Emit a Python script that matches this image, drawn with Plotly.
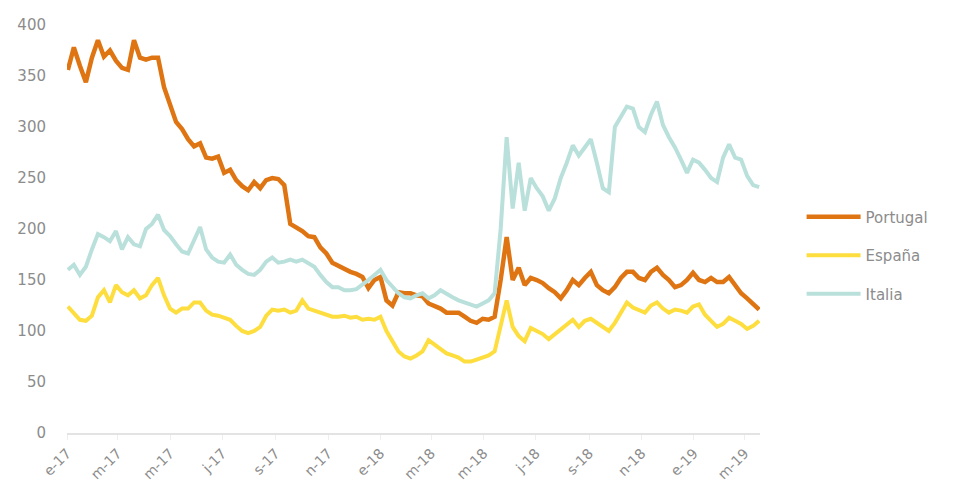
import pandas as pd
import plotly.graph_objects as go

# Weekly observations starting 2 Jan 2017
start_date = "2017-01-02"

portugal = [356, 378, 360, 344, 368, 385, 369, 375, 365, 358,
            356, 385, 368, 366, 368, 368, 339, 322, 305, 298,
            288, 281, 284, 270, 269, 271, 255, 258, 248, 242,
            238, 246, 240, 248, 250, 249, 243, 205, 202, 198,
            193, 192, 182, 176, 167, 164, 160, 158, 156, 153,
            142, 150, 153, 130, 125, 138, 137, 137, 135, 134,
            127, 125, 122, 118, 118, 118, 114, 110, 108, 112,
            111, 114, 150, 192, 150, 162, 145, 152, 150, 147,
            142, 138, 132, 140, 150, 145, 152, 158, 145, 140,
            137, 143, 152, 158, 158, 152, 150, 158, 162, 155,
            150, 143, 145, 150, 157, 150, 148, 152, 148, 148,
            153, 145, 137, 132, 126, 121]

espana = [124, 118, 111, 110, 115, 133, 140, 128, 145, 138,
          135, 140, 132, 135, 145, 152, 135, 122, 118, 122,
          122, 128, 128, 120, 116, 115, 113, 111, 105, 100,
          98, 100, 104, 115, 121, 120, 121, 118, 120, 130,
          122, 120, 118, 116, 114, 114, 115, 113, 114, 111,
          112, 111, 114, 100, 90, 80, 75, 73, 76, 80,
          91, 87, 83, 78, 76, 74, 70, 70, 72, 74,
          76, 80, 105, 130, 104, 95, 90, 103, 100, 97,
          92, 97, 101, 107, 111, 104, 110, 112, 108, 104,
          100, 108, 118, 128, 123, 120, 118, 125, 128, 122,
          118, 121, 120, 118, 124, 126, 116, 110, 104, 107,
          113, 110, 107, 102, 105, 110]

italia = [160, 165, 155, 163, 180, 195, 192, 188, 198, 180,
          192, 185, 183, 200, 205, 214, 199, 193, 185, 178,
          176, 190, 202, 180, 172, 168, 167, 175, 165, 160,
          156, 155, 160, 168, 172, 167, 168, 170, 168, 170,
          167, 163, 155, 148, 143, 143, 140, 140, 141, 145,
          150, 155, 160, 150, 143, 137, 133, 132, 135, 137,
          132, 135, 140, 136, 133, 130, 128, 126, 124, 127,
          130, 137, 200, 290, 220, 265, 218, 250, 240, 232,
          218, 230, 250, 265, 282, 272, 280, 288, 265, 240,
          236, 300, 310, 320, 318, 300, 295, 312, 325, 302,
          290, 280, 268, 255, 268, 265, 258, 250, 246, 270,
          283, 270, 268, 252, 243, 241]

dates = pd.date_range(start_date, periods=len(portugal), freq="7D")

tick_dates = ["2017-01-01", "2017-03-01", "2017-05-01", "2017-07-01", "2017-09-01",
              "2017-11-01", "2018-01-01", "2018-03-01", "2018-05-01", "2018-07-01",
              "2018-09-01", "2018-11-01", "2019-01-01", "2019-03-01"]
tick_labels = ["e-17", "m-17", "m-17", "j-17", "s-17", "n-17", "e-18", "m-18",
               "m-18", "j-18", "s-18", "n-18", "e-19", "m-19"]
y_ticks = [0, 50, 100, 150, 200, 250, 300, 350, 400]

series = [
    ("Portugal", portugal, "#DF7512", 4.5),
    ("España", espana, "#FDDE3E", 4),
    ("Italia", italia, "#B9E0DB", 4),
]

fig = go.Figure()
for name, vals, color, w in series:
    fig.add_trace(go.Scatter(
        x=dates, y=vals, name=name, mode="lines",
        line=dict(color=color, width=w), legendgroup=name,
    ))

font_family = "DejaVu Sans"
grey = "#8c8c8c"

fig.update_layout(
    width=955, height=499,
    margin=dict(l=67, r=195, t=25, b=66),
    paper_bgcolor="white", plot_bgcolor="white",
    font=dict(family=font_family, color=grey, size=15),
    showlegend=True,
    legend=dict(x=1.06, xanchor="left", y=0.57, yanchor="top",
                traceorder="grouped", tracegroupgap=16,
                itemwidth=54, font=dict(size=15, color=grey)),
    xaxis=dict(
        type="date",
        range=["2017-01-01", "2019-03-19"],
        tickmode="array", tickvals=tick_dates, ticktext=tick_labels,
        tickangle=-45, tickfont=dict(size=14, color=grey),
        showgrid=False, zeroline=False,
        showline=True, linecolor="#e3e3e3", linewidth=1.5,
        ticks="outside", ticklen=5, tickcolor="#eeeeee",
    ),
    yaxis=dict(
        range=[0, 400], tickmode="array", tickvals=y_ticks,
        showgrid=False, zeroline=False, showline=False,
        tickfont=dict(size=15, color=grey),
        ticklabelstandoff=20,
    ),
)

fig.write_html("out.html")
